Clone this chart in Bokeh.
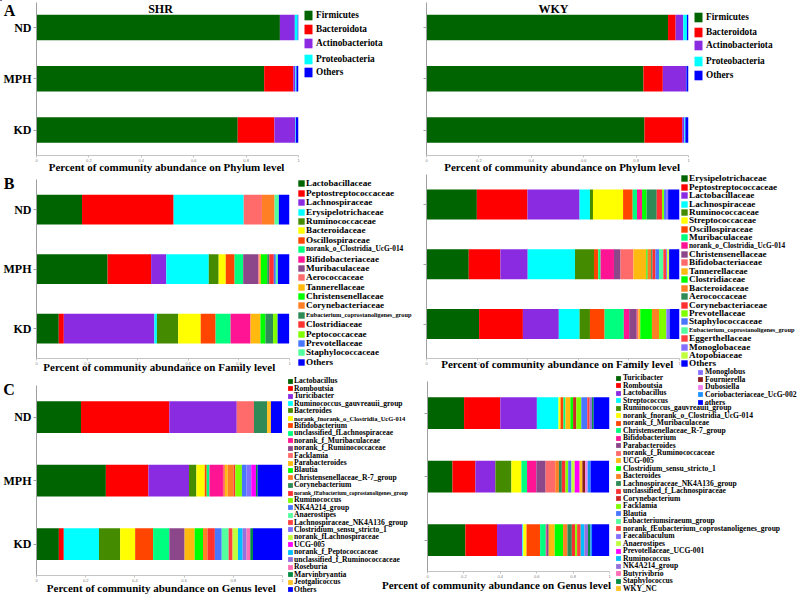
from bokeh.plotting import figure
from bokeh.models import ColumnDataSource, Range1d, FixedTicker, Legend, LegendItem, Label
from bokeh.layouts import column
from bokeh.embed import file_html
from bokeh.resources import INLINE
from bokeh.core.properties import value

# ---------------- data ----------------
groups = ["KD", "MPH", "ND"]            # bottom -> top
x_ticks = [0, 0.2, 0.4, 0.6, 0.8, 1.0]
x_tick_labels = ["0", "0.2", "0.4", "0.6", "0.8", "1"]

phylum_taxa = ["Firmicutes", "Bacteroidota", "Actinobacteriota", "Proteobacteria", "Others"]
phylum_shr_nd = [0.929, 0.000, 0.057, 0.011, 0.003]
phylum_shr_mph = [0.869, 0.111, 0.008, 0.004, 0.008]
phylum_shr_kd = [0.768, 0.140, 0.080, 0.002, 0.010]
phylum_wky_nd = [0.922, 0.029, 0.029, 0.014, 0.006]
phylum_wky_mph = [0.828, 0.074, 0.089, 0.001, 0.008]
phylum_wky_kd = [0.832, 0.144, 0.008, 0.004, 0.012]

family_shr_taxa = ["Lactobacillaceae", "Peptostreptococcaceae", "Lachnospiraceae", "Erysipelotrichaceae",
                   "Ruminococcaceae", "Bacteroidaceae", "Oscillospiraceae", "norank_o_Clostridia_UcG-014",
                   "Bifidobacteriaceae", "Muribaculaceae", "Aerococcaceae", "Tannerellaceae",
                   "Christensenellaceae", "Corynebacteriaceae", "Eubacterium_coprostanoligenes_group",
                   "Clostridiaceae", "Peptococcaceae", "Prevotellaceae", "Staphylococcaceae", "Others"]
family_shr_nd = [0.180, 0.362, 0, 0.277, 0, 0, 0, 0, 0, 0, 0.072, 0, 0, 0.050, 0, 0, 0, 0, 0.017, 0.042]
family_shr_mph = [0.281, 0.172, 0.060, 0.168, 0.039, 0.028, 0.035, 0.034, 0, 0.060, 0.005, 0.005, 0.025, 0,
                  0.008, 0.018, 0, 0.008, 0.008, 0.046]
family_shr_kd = [0.088, 0.020, 0.358, 0.010, 0.084, 0.089, 0.059, 0.059, 0.079, 0, 0, 0.039, 0.020, 0,
                 0.030, 0, 0.018, 0, 0, 0.046]

family_wky_taxa = ["Erysipelotrichaceae", "Peptostreptococcaceae", "Lactobacillaceae", "Lachnospiraceae",
                   "Ruminococcaceae", "Streptococcaceae", "Oscillospiraceae", "Muribaculaceae",
                   "norank_o_Clostridia_UcG-014", "Christensenellaceae", "Bifidobacteriaceae", "Tannerellaceae",
                   "Clostridiaceae", "Bacteroidaceae", "Aerococcaceae", "Corynebacteriaceae", "Prevotellaceae",
                   "Staphylococcaceae", "Eubacterium_coprostanoligenes_group", "Eggerthellaceae",
                   "Monoglobaceae", "Atopobiaceae", "Others"]
family_wky_nd = [0.199, 0.200, 0.206, 0.041, 0.012, 0.119, 0.038, 0.017, 0.020, 0, 0, 0, 0.018, 0, 0.040,
                 0.021, 0.008, 0.008, 0, 0, 0.008, 0, 0.045]
family_wky_mph = [0.167, 0.125, 0.108, 0.187, 0.075, 0, 0.017, 0.009, 0.053, 0.026, 0.051, 0.051, 0.005,
                  0.014, 0.005, 0.012, 0, 0.014, 0.017, 0.011, 0.004, 0.008, 0.041]
family_wky_kd = [0.208, 0.173, 0.142, 0.082, 0.041, 0, 0.058, 0.076, 0.021, 0.030, 0.007, 0.007, 0.046,
                 0.028, 0, 0, 0.029, 0, 0, 0, 0.013, 0, 0.040]

genus_shr_taxa = ["Lactobacillus", "Romboutsia", "Turicibacter", "Ruminococcus_gauvreauii_group",
                  "Bacteroides", "norank_fnorank_o_Clostridia_UcG-014", "Bifidobacterium",
                  "unclassified_fLachnospiraceae", "norank_f_Muribaculaceae", "norank_f_Ruminococcaceae",
                  "Facklamia", "Parabacteroides", "Blautia", "Christensenellaceae_R-7_group",
                  "Corynebacterium", "norank_fEubacterium_coprostanoligenes_group", "Ruminococcus",
                  "NK4A214_group", "Anaerostipes", "Lachnospiraceae_NK4A136_group",
                  "Clostridium_sensu_stricto_1", "norank_fLachnospiraceae", "UCG-005",
                  "norank_f_Peptococcaceae", "unclassified_f_Ruminococcaceae", "Roseburia",
                  "Marvinbryantia", "Jeotgalicoccus", "Others"]
genus_shr_nd = [0.181, 0.359, 0.274, 0, 0, 0, 0, 0, 0, 0, 0.070, 0, 0, 0, 0.053, 0, 0, 0, 0, 0, 0, 0, 0, 0,
                0, 0, 0, 0.016, 0.045]
genus_shr_mph = [0.282, 0.173, 0.165, 0, 0.030, 0.034, 0.008, 0.011, 0.055, 0, 0.008, 0.011, 0, 0.024, 0,
                 0.007, 0.027, 0.019, 0, 0, 0.019, 0, 0.019, 0, 0, 0, 0.007, 0, 0.100]
genus_shr_kd = [0.091, 0.020, 0, 0.143, 0.086, 0.061, 0.073, 0.066, 0, 0.062, 0, 0.041, 0.034, 0.018, 0,
                0.030, 0, 0.028, 0.028, 0.016, 0, 0.022, 0, 0.019, 0.016, 0.015, 0.011, 0, 0.119]

genus_wky_taxa = ["Turicibacter", "Romboutsia", "Lactobacillus", "Streptococcus",
                  "Ruminococcus_gauvreauii_group", "norank_fnorank_o_Clostridia_UcG-014",
                  "norank_f_Muribaculaceae", "Christensenellaceae_R-7_group", "Bifidobacterium",
                  "Parabacteroides", "norank_f_Ruminococcaceae", "UCG-005", "Clostridium_sensu_stricto_1",
                  "Bacteroides", "Lachnospiraceae_NK4A136_group", "unclassified_f_Lachnospiraceae",
                  "Corynebacterium", "Facklamia", "Blautia", "Eubacteriumsiraeum_group",
                  "norank_fEubacterium_coprostanoligenes_group", "Faecalibaculum", "Anaerostipes",
                  "Prevotellaceae_UCG-001", "Ruminococcus", "NK4A214_group", "Butyrivibrio",
                  "Staphylococcus", "WKY_NC", "Monoglobus", "Fournierella", "Dubosiella",
                  "Coriobacteriaceae_UcG-002", "others"]
genus_wky_nd = [0.201, 0.199, 0.201, 0.119, 0, 0.011, 0.016, 0.011, 0, 0, 0, 0.027, 0.015, 0, 0, 0, 0.018,
                0.027, 0.033, 0, 0.013, 0, 0, 0, 0, 0.013, 0, 0.009, 0, 0, 0, 0, 0, 0.087]
genus_wky_mph = [0.137, 0.126, 0.110, 0, 0.088, 0.055, 0, 0.031, 0.051, 0.051, 0.053, 0, 0, 0.020, 0.016,
                 0.020, 0, 0.015, 0.018, 0, 0, 0, 0.018, 0.027, 0, 0, 0, 0, 0.015, 0, 0.016, 0.013, 0.016,
                 0.102]
genus_wky_kd = [0.208, 0.174, 0.139, 0.005, 0, 0.018, 0.075, 0.031, 0.005, 0.011, 0, 0.033, 0.046, 0.024,
                0.024, 0.018, 0, 0.011, 0, 0, 0.020, 0, 0, 0, 0.020, 0.020, 0, 0.013, 0, 0, 0, 0, 0.009,
                0.095]

# ---------------- styles ----------------
PAL = ["#006400", "#FF0000", "#8A2BE2", "#00FFFF", "#458B00", "#FFFF00", "#FF4500", "#00FF7F",
       "#FF1493", "#8B4789", "#FF6A6A", "#FFB90F", "#00FF00", "#FF7F24", "#2E8B57", "#FF3030",
       "#7FFF00", "#4876FF", "#54FF9F", "#FF4040", "#836FFF", "#C0FF3E", "#FF00FF", "#00BFFF",
       "#9370DB", "#FF6EB4", "#008B45", "#FFC125"]
OTHERS = "#0000FF"
col_phylum = ["#006400", "#FF0000", "#8A2BE2", "#00FFFF", OTHERS]
col_fam_shr = PAL[:19] + [OTHERS]
col_fam_wky = PAL[:22] + [OTHERS]
col_gen_shr = PAL[:28] + [OTHERS]
col_gen_wky = PAL[:16] + ["#CD2626"] + PAL[16:28] + ["#8470FF", "#8B1A1A", "#EE82EE", "#1E90FF", OTHERS]

W, H = 800, 595
FONT = "Liberation Serif"


def panel(taxa, nd, mph, kd, colors, frame, c_nd, c_kd, ylabels):
    L, R, T, B = frame
    unit = (c_kd - c_nd) / 2.0
    y0 = -(B - c_kd) / unit
    y1 = (c_kd - T) / unit
    p = figure(width=W, height=H, x_range=Range1d(0, 1), y_range=Range1d(y0, y1),
               output_backend="svg", toolbar_location=None, tools="",
               min_border_left=L, min_border_right=W - R, min_border_top=T, min_border_bottom=H - B,
               background_fill_color=None, border_fill_color=None, outline_line_color=None,
               frame_align=False)
    p.xgrid.visible = False
    p.ygrid.visible = False
    data = {"y": [0, 1, 2]}
    for i, t in enumerate(taxa):
        data[t] = [kd[i], mph[i], nd[i]]
    src = ColumnDataSource(data)
    p.hbar_stack(list(taxa), y="y", height=0.5, fill_color=list(colors), line_color=None, source=src)

    yax = p.yaxis[0]
    yax.ticker = FixedTicker(ticks=[0, 1, 2])
    yax.major_label_overrides = {i: g for i, g in enumerate(groups)}
    yax.major_label_text_font = FONT
    yax.major_label_text_font_style = "bold"
    yax.major_label_text_font_size = "12px"
    yax.major_label_text_color = "black"
    yax.major_label_standoff = 2
    yax.axis_line_color = "#A0A0A0"
    yax.major_tick_line_color = "#A0A0A0"
    yax.major_tick_out = 3
    yax.major_tick_in = 0
    yax.minor_tick_line_color = None
    if not ylabels:
        yax.major_label_text_alpha = 0

    xax = p.xaxis[0]
    xax.ticker = FixedTicker(ticks=x_ticks)
    xax.major_label_overrides = dict(zip(x_ticks, x_tick_labels))
    xax.major_label_text_font_size = "4px"
    xax.major_label_text_color = "#808080"
    xax.major_label_standoff = 1
    xax.axis_line_color = "#C4C4C4"
    xax.major_tick_line_color = "#C4C4C4"
    xax.major_tick_out = 2
    xax.major_tick_in = 0
    xax.minor_tick_line_color = None
    return p


# overlay figure (page-pixel coordinates) that carries the texts and legends
ov = figure(width=W, height=H, x_range=Range1d(0, W), y_range=Range1d(H, 0),
            output_backend="svg", toolbar_location=None, tools="",
            min_border_left=0, min_border_right=0, min_border_top=0, min_border_bottom=0,
            x_axis_location=None, y_axis_location=None,
            background_fill_color=None, border_fill_color=None, outline_line_color=None,
            frame_align=False)
ov.xgrid.visible = False
ov.ygrid.visible = False


def add_text(text, x, y, size):
    ov.add_layout(Label(x=x, y=y, text=text, text_font=FONT, text_font_style="bold",
                        text_font_size=f"{size}px", text_align="center", text_baseline="middle",
                        text_color="black"))


def add_legend(names, colors, sw_left, text_x, centers, font, gw, gh, overrides=None):
    overrides = overrides or {}
    standoff = max(0, int(round(text_x - sw_left - 0.9 * gw)))
    for name, c, cy in zip(names, colors, centers):
        s = overrides.get(name, font)
        r = ov.hbar(y=[-100], left=[0], right=[1], height=1, fill_color=c, line_color=None)
        h = max(1.107 * s, gh)
        vx = text_x - gw - standoff
        vy = H - (cy + h / 2.0)
        leg = Legend(items=[LegendItem(label=value(name), renderers=[r])], location=(vx, vy),
                     orientation="vertical", padding=0, margin=0, spacing=0,
                     border_line_color=None, background_fill_alpha=0,
                     label_text_font=FONT, label_text_font_style="bold",
                     label_text_font_size=f"{s}px", label_text_color="black",
                     label_standoff=standoff, glyph_width=gw, glyph_height=gh, label_height=gh)
        ov.add_layout(leg, "center")


def spread(first, last, n):
    return [first + (last - first) * i / (n - 1) for i in range(n)]


# ---------------- panel A ----------------
pA1 = panel(phylum_taxa, phylum_shr_nd, phylum_shr_mph, phylum_shr_kd, col_phylum,
            (36, 298, 2, 155), 27, 129.5, True)
pA2 = panel(phylum_taxa, phylum_wky_nd, phylum_wky_mph, phylum_wky_kd, col_phylum,
            (426, 688, 2, 155), 27, 129.5, False)
add_legend(phylum_taxa, col_phylum, 304, 316, [15, 29.3, 42.7, 58.7, 72.3], 9.3, 10, 12)
add_legend(phylum_taxa, col_phylum, 694, 706, [17.3, 31.7, 45, 60.7, 74.7], 9.3, 10, 12)
add_text("A", 9, 9.5, 16)
add_text("SHR", 160, 8, 12)
add_text("WKY", 553, 8, 12)
add_text("Percent of community abundance on Phylum level", 166, 166, 11)
add_text("Percent of community abundance on Phylum level", 561.6, 166, 11)

# ---------------- panel B ----------------
pB1 = panel(family_shr_taxa, family_shr_nd, family_shr_mph, family_shr_kd, col_fam_shr,
            (35, 289, 179, 358), 209, 328, True)
pB2 = panel(family_wky_taxa, family_wky_nd, family_wky_mph, family_wky_kd, col_fam_wky,
            (426, 679, 174, 358), 204, 323.5, False)
add_legend(family_shr_taxa, col_fam_shr, 298, 306, spread(183.3, 361.7, len(family_shr_taxa)), 9.2, 8, 8,
           {"norank_o_Clostridia_UcG-014": 7.4, "Eubacterium_coprostanoligenes_group": 6.3})
add_legend(family_wky_taxa, col_fam_wky, 681, 689, spread(178.3, 363.3, len(family_wky_taxa)), 9.2, 8, 8,
           {"norank_o_Clostridia_UcG-014": 7.3, "Eubacterium_coprostanoligenes_group": 6.3})
add_text("B", 8.5, 182.5, 16)
add_text("Percent of community abundance on Family level", 158.8, 366.5, 11)
add_text("Percent of community abundance on Family level", 556.7, 363.5, 11)

# ---------------- panel C ----------------
pC1 = panel(genus_shr_taxa, genus_shr_nd, genus_shr_mph, genus_shr_kd, col_gen_shr,
            (35, 282, 385, 575), 416.5, 543.5, True)
pC2 = panel(genus_wky_taxa, genus_wky_nd, genus_wky_mph, genus_wky_kd, col_gen_wky,
            (427, 609, 381, 571), 412.5, 539.5, False)
add_legend(genus_shr_taxa, col_gen_shr, 288, 294, spread(381, 589.3, len(genus_shr_taxa)), 7.6, 6, 6,
           {"norank_fnorank_o_Clostridia_UcG-014": 6.5,
            "norank_fEubacterium_coprostanoligenes_group": 5.5})
add_legend(genus_wky_taxa[:29], col_gen_wky[:29], 616, 623, spread(378, 588.7, 29), 7.6, 6, 6)
add_legend(genus_wky_taxa[29:], col_gen_wky[29:], 698, 705, spread(372, 402.3, 5), 7.6, 6, 6)
add_text("C", 8.5, 389, 16)
add_text("Percent of community abundance on Genus level", 160.8, 587, 11)
add_text("Percent of community abundance on Genus level", 496, 584.5, 11)

figs = [pA1, pA2, pB1, pB2, pC1, pC2, ov]
for f in figs[1:]:
    f.margin = (-H, 0, 0, 0)
page = column(*figs, spacing=0)

open("out.html", "w").write(file_html(page, INLINE))
